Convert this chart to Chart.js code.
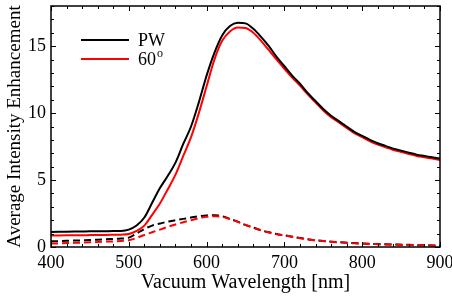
<!DOCTYPE html>
<html>
<head>
<meta charset="utf-8">
<script src="https://cdn.jsdelivr.net/npm/chart.js@4/dist/chart.umd.min.js"></script>
<style>
html,body{margin:0;padding:0;background:#fff;}
#wrap{width:452px;height:297px;}
</style>
</head>
<body>
<div id="wrap"><canvas id="c" width="452" height="297"></canvas></div>
<script>
const wavelengths = [400,410,420,430,440,450,460,470,480,490,500,510,520,530,540,550,560,570,580,590,600,610,620,630,640,650,660,670,680,690,700,710,720,730,740,750,760,770,780,790,800,810,820,830,840,850,860,870,880,890,900];
const pwSolid = [1.12,1.13,1.14,1.15,1.16,1.17,1.17,1.18,1.19,1.2,1.3,1.6,2.2,3.3,4.4,5.3,6.3,7.7,9.0,10.8,12.8,14.5,15.8,16.5,16.75,16.7,16.3,15.7,15.0,14.2,13.5,12.8,12.2,11.5,10.9,10.3,9.8,9.4,9.0,8.6,8.3,8.0,7.75,7.55,7.35,7.2,7.05,6.9,6.8,6.7,6.6];
const deg60Solid = [0.85,0.86,0.87,0.88,0.88,0.89,0.9,0.9,0.91,0.92,0.97,1.2,1.6,2.4,3.25,4.3,5.4,6.8,8.2,10.0,12.0,14.0,15.4,16.1,16.4,16.35,16.0,15.4,14.7,14.0,13.3,12.65,12.05,11.4,10.8,10.2,9.7,9.3,8.9,8.5,8.2,7.9,7.65,7.45,7.25,7.1,6.95,6.8,6.7,6.6,6.5];
const pwDashed = [0.42,0.44,0.46,0.48,0.5,0.52,0.55,0.57,0.6,0.63,0.7,1.0,1.35,1.6,1.75,1.9,2.0,2.1,2.2,2.3,2.36,2.37,2.3,2.1,1.9,1.65,1.45,1.25,1.1,0.97,0.87,0.77,0.67,0.58,0.5,0.45,0.4,0.36,0.32,0.29,0.26,0.24,0.22,0.2,0.19,0.17,0.16,0.14,0.13,0.12,0.1];
const deg60Dashed = [0.25,0.27,0.29,0.31,0.33,0.35,0.37,0.4,0.42,0.45,0.5,0.68,0.9,1.1,1.3,1.5,1.68,1.85,2.0,2.15,2.25,2.3,2.25,2.08,1.88,1.64,1.44,1.24,1.09,0.96,0.86,0.76,0.66,0.57,0.5,0.44,0.39,0.35,0.31,0.28,0.25,0.23,0.21,0.19,0.18,0.16,0.15,0.13,0.12,0.11,0.09];
const xTickLabels = [400,500,600,700,800,900];
const yTickLabels = [0,5,10,15];
const legendLabels = ['PW','60'];
const legendSup = ['','o'];

function pts(ys){ return wavelengths.map((x,i)=>({x:x,y:ys[i]})); }
const SERIF = "'Liberation Serif', 'Times New Roman', serif";

const frameTicks = {
  id:'frameTicks',
  afterDraw(chart){
    const {ctx, chartArea:a, scales:{x,y}} = chart;
    ctx.save();
    ctx.strokeStyle='#000'; ctx.lineWidth=1.5;
    ctx.strokeRect(a.left, a.top, a.right-a.left, a.bottom-a.top);
    ctx.lineWidth=1;
    x.ticks.forEach(t=>{
      const px=Math.round(x.getPixelForValue(t.value))+0.5;
      const L = (t.value%100===0)?5:3;
      ctx.beginPath();
      ctx.moveTo(px,a.bottom); ctx.lineTo(px,a.bottom-L);
      ctx.moveTo(px,a.top); ctx.lineTo(px,a.top+L);
      ctx.stroke();
    });
    y.ticks.forEach(t=>{
      const py=Math.round(y.getPixelForValue(t.value))+0.5;
      const L = (t.value%5===0)?5:3;
      ctx.beginPath();
      ctx.moveTo(a.left,py); ctx.lineTo(a.left+L,py);
      ctx.moveTo(a.right,py); ctx.lineTo(a.right-L,py);
      ctx.stroke();
    });
    const ds = chart.data.datasets;
    const rows=[{ds:ds[0],y:40},{ds:ds[1],y:59}];
    rows.forEach((r,i)=>{
      ctx.strokeStyle=r.ds.borderColor; ctx.lineWidth=2;
      ctx.beginPath(); ctx.moveTo(81,r.y); ctx.lineTo(129,r.y); ctx.stroke();
      ctx.fillStyle='#000';
      ctx.font='18px '+SERIF;
      ctx.textBaseline='middle'; ctx.textAlign='left';
      ctx.fillText(legendLabels[i],138,r.y+1);
      if(legendSup[i]){
        const w=ctx.measureText(legendLabels[i]).width;
        ctx.font='12px '+SERIF;
        ctx.fillText(legendSup[i],138+w+1,r.y-5);
      }
    });
    ctx.restore();
  }
};

new Chart(document.getElementById('c'),{
  type:'line',
  data:{datasets:[
    {data:pts(pwSolid),borderColor:'#000000',borderWidth:2,pointRadius:0,cubicInterpolationMode:'monotone',fill:false,order:1},
    {data:pts(deg60Solid),borderColor:'#ff0000',borderWidth:2,pointRadius:0,cubicInterpolationMode:'monotone',fill:false,order:2},
    {data:pts(pwDashed),borderColor:'#000000',borderWidth:2,borderDash:[7,4],pointRadius:0,cubicInterpolationMode:'monotone',fill:false,order:3},
    {data:pts(deg60Dashed),borderColor:'#ff0000',borderWidth:2,borderDash:[7,4],pointRadius:0,cubicInterpolationMode:'monotone',fill:false,order:0}
  ]},
  options:{
    responsive:false,animation:false,
    layout:{padding:{left:0,right:12,top:6,bottom:0}},
    plugins:{legend:{display:false},tooltip:{enabled:false}},
    scales:{
      x:{type:'linear',min:400,max:900,
        grid:{display:false,drawTicks:false},border:{display:false},
        ticks:{stepSize:20,autoSkip:false,maxRotation:0,padding:5,color:'#000',font:{family:SERIF,size:18},
          callback:(v)=>xTickLabels.includes(v)?String(v):''},
        title:{display:true,text:'Vacuum Wavelength [nm]',color:'#000',font:{family:SERIF,size:20},padding:{top:0,bottom:2}},
        afterFit:(s)=>{s.height=50;s.paddingLeft=0;s.paddingRight=0;}
      },
      y:{type:'linear',min:0,max:18,
        grid:{display:false,drawTicks:false},border:{display:false},
        ticks:{stepSize:1,autoSkip:false,padding:5,color:'#000',font:{family:SERIF,size:18},
          callback:(v)=>yTickLabels.includes(v)?String(v):''},
        title:{display:true,text:'Average Intensity Enhancement',color:'#000',font:{family:SERIF,size:19},padding:{top:4,bottom:0}},
        afterFit:(s)=>{s.width=51;s.paddingTop=0;s.paddingBottom=0;}
      }
    }
  },
  plugins:[frameTicks]
});
</script>
</body>
</html>
